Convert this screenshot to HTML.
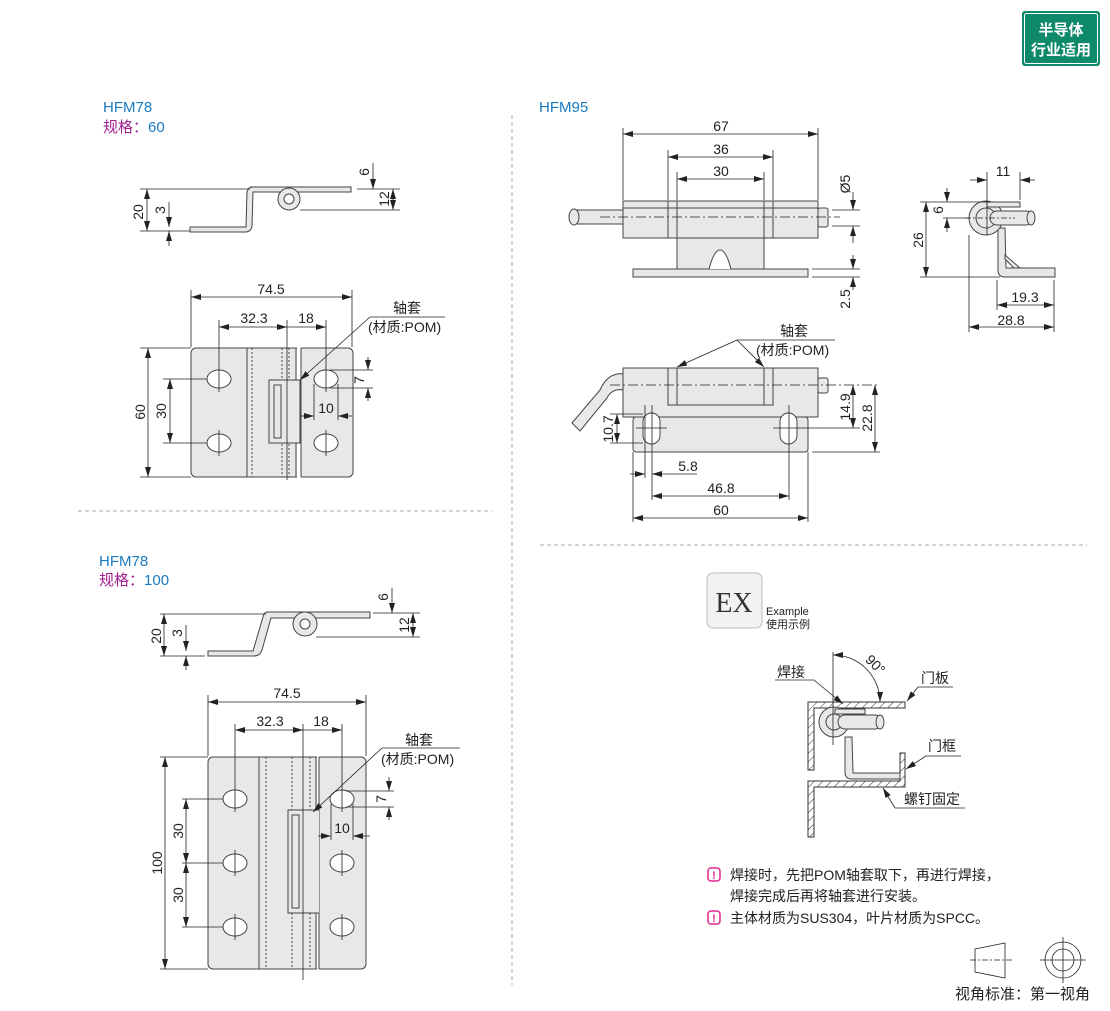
<!DOCTYPE html>
<html><head><meta charset="utf-8">
<style>
html,body{margin:0;padding:0;background:#fff;}
body{width:1110px;height:1006px;overflow:hidden;position:relative;font-family:"Liberation Sans","Noto Sans CJK SC",sans-serif;}
svg text{font-family:"Liberation Sans","Noto Sans CJK SC",sans-serif;fill:#222;}
</style></head><body>
<svg width="1110" height="1006" viewBox="0 0 1110 1006" xmlns="http://www.w3.org/2000/svg">
<defs>
<marker id="a" viewBox="0 0 10 6" refX="10" refY="3" markerWidth="10" markerHeight="6" orient="auto-start-reverse" markerUnits="userSpaceOnUse"><path d="M0,0 L10,3 L0,6z" fill="#222"/></marker>
<pattern id="h" width="6" height="6" patternUnits="userSpaceOnUse" patternTransform="rotate(45)"><rect width="6" height="6" fill="#fff"/><line x1="0" y1="0" x2="0" y2="6" stroke="#333" stroke-width="1"/></pattern>
</defs>

<!-- badge -->
<rect x="1022" y="11" width="78" height="55" rx="3" fill="#0e8a6a"/>
<rect x="1024.5" y="13.5" width="73" height="50" rx="2" fill="none" stroke="#fff" stroke-width="1"/>
<text x="1061" y="35" text-anchor="middle" font-size="15" font-weight="bold" style="fill:#fff">半导体</text>
<text x="1061" y="55" text-anchor="middle" font-size="15" font-weight="bold" style="fill:#fff">行业适用</text>

<!-- dividers -->
<g stroke="#aaa" stroke-width="1" stroke-dasharray="4,3" fill="none">
<line x1="512" y1="115" x2="512" y2="985"/>
<line x1="78" y1="511" x2="492" y2="511"/>
<line x1="540" y1="545" x2="1087" y2="545"/>
</g>

<!-- titles -->
<text x="103" y="112" font-size="15" style="fill:#1a7abf">HFM78</text>
<text x="103" y="132" font-size="15" style="fill:#a0208f">规格：<tspan style="fill:#1a7abf">60</tspan></text>
<text x="539" y="112" font-size="15" style="fill:#1a7abf">HFM95</text>
<text x="99" y="566" font-size="15" style="fill:#1a7abf">HFM78</text>
<text x="99" y="585" font-size="15" style="fill:#a0208f">规格：<tspan style="fill:#1a7abf">100</tspan></text>

<g font-size="14">
<!-- ===== HFM78 60 side view ===== -->
<g stroke="#444" fill="#e8e8ea" stroke-width="1">
<path d="M250,187 L351,187 L351,192 L253,192 L252,226 Q251,232 245,232 L190,232 L190,227 L246,227 L247,192 Q248,187 253,187Z"/>
<circle cx="289" cy="199" r="11"/><circle cx="289" cy="199" r="5" fill="#fff"/>
</g>
<g stroke="#222" stroke-width="0.8" fill="none">
<line x1="140" y1="189" x2="250" y2="189"/><line x1="140" y1="231" x2="190" y2="231"/>
<line x1="147" y1="189" x2="147" y2="231" marker-start="url(#a)" marker-end="url(#a)"/>
<line x1="169" y1="202" x2="169" y2="227" marker-end="url(#a)"/><line x1="169" y1="246" x2="169" y2="231" marker-end="url(#a)"/>
<line x1="357" y1="189" x2="400" y2="189"/><line x1="300" y1="210" x2="400" y2="210"/>
<line x1="373" y1="163" x2="373" y2="189" marker-end="url(#a)"/>
<line x1="393" y1="189" x2="393" y2="210" marker-start="url(#a)" marker-end="url(#a)"/>
</g>
<text transform="translate(143,212) rotate(-90)" text-anchor="middle">20</text>
<text transform="translate(165,210) rotate(-90)" text-anchor="middle">3</text>
<text transform="translate(369,172) rotate(-90)" text-anchor="middle">6</text>
<text transform="translate(389,199) rotate(-90)" text-anchor="middle">12</text>

<!-- ===== HFM78 60 plan ===== -->
<rect x="191" y="348" width="162" height="129" rx="5" fill="#e8e8ea" stroke="#444"/>
<g stroke="#444" stroke-width="1" fill="none">
<line x1="247" y1="348" x2="247" y2="477"/><line x1="296" y1="348" x2="296" y2="477"/>
<rect x="297" y="347" width="4" height="131" fill="#fff" stroke="none"/>
<line x1="301" y1="348" x2="301" y2="477"/>
<line x1="252" y1="348" x2="252" y2="477" stroke-dasharray="2,2"/>
<line x1="282" y1="348" x2="282" y2="477" stroke-dasharray="2,2"/>
<line x1="289" y1="348" x2="289" y2="477" stroke-dasharray="2,2"/>
<rect x="269" y="380" width="31" height="63" fill="#e8e8ea"/>
<rect x="274" y="385" width="7" height="53"/>
<ellipse cx="219" cy="379" rx="12" ry="9" fill="#fff"/><ellipse cx="219" cy="443" rx="12" ry="9" fill="#fff"/>
<ellipse cx="326" cy="379" rx="12" ry="9" fill="#fff"/><ellipse cx="326" cy="443" rx="12" ry="9" fill="#fff"/>
</g>
<g stroke="#222" stroke-width="0.8" fill="none">
<line x1="219" y1="366" x2="219" y2="392"/><line x1="219" y1="430" x2="219" y2="456"/>
<line x1="326" y1="366" x2="326" y2="392"/><line x1="326" y1="430" x2="326" y2="456"/>
<line x1="191" y1="290" x2="191" y2="347"/><line x1="352" y1="290" x2="352" y2="347"/>
<line x1="191" y1="297" x2="352" y2="297" marker-start="url(#a)" marker-end="url(#a)"/>
<line x1="219" y1="320" x2="219" y2="366"/><line x1="287" y1="320" x2="287" y2="480"/><line x1="326" y1="320" x2="326" y2="366"/>
<line x1="219" y1="327" x2="287" y2="327" marker-start="url(#a)" marker-end="url(#a)"/>
<line x1="287" y1="327" x2="326" y2="327" marker-end="url(#a)"/>
<line x1="140" y1="348" x2="191" y2="348"/><line x1="140" y1="477" x2="191" y2="477"/>
<line x1="148" y1="348" x2="148" y2="477" marker-start="url(#a)" marker-end="url(#a)"/>
<line x1="163" y1="379" x2="207" y2="379"/><line x1="163" y1="443" x2="207" y2="443"/>
<line x1="170" y1="379" x2="170" y2="443" marker-start="url(#a)" marker-end="url(#a)"/>
<line x1="330" y1="370" x2="373" y2="370"/><line x1="330" y1="388" x2="373" y2="388"/>
<line x1="368" y1="357" x2="368" y2="370" marker-end="url(#a)"/><line x1="368" y1="401" x2="368" y2="388" marker-end="url(#a)"/>
<line x1="314" y1="384" x2="314" y2="420"/><line x1="338" y1="384" x2="338" y2="420"/>
<line x1="300" y1="416" x2="314" y2="416" marker-end="url(#a)"/><line x1="352" y1="416" x2="338" y2="416" marker-end="url(#a)"/>
<line x1="370" y1="317" x2="445" y2="317"/><line x1="370" y1="317" x2="300" y2="380" marker-end="url(#a)"/>
</g>
<text x="271" y="294" text-anchor="middle">74.5</text>
<text x="254" y="323" text-anchor="middle">32.3</text>
<text x="306" y="323" text-anchor="middle">18</text>
<text x="393" y="313" font-size="14">轴套</text>
<text x="368" y="332">(材质:POM)</text>
<text transform="translate(145,412) rotate(-90)" text-anchor="middle">60</text>
<text transform="translate(166,411) rotate(-90)" text-anchor="middle">30</text>
<text transform="translate(364,380) rotate(-90)" text-anchor="middle">7</text>
<text x="326" y="413" text-anchor="middle">10</text>

<!-- ===== HFM78 100 side view ===== -->
<g stroke="#444" fill="#e8e8ea" stroke-width="1">
<path d="M266,612 L370,612 L370,618 L271,618 L262,650 Q260,656 254,656 L208,656 L208,651 L253,651 L263,617 Q264,612 268,612Z"/>
<circle cx="305" cy="624" r="12"/><circle cx="305" cy="624" r="5" fill="#fff"/>
</g>
<g stroke="#222" stroke-width="0.8" fill="none">
<line x1="160" y1="614" x2="266" y2="614"/><line x1="160" y1="656" x2="205" y2="656"/>
<line x1="164" y1="614" x2="164" y2="656" marker-start="url(#a)" marker-end="url(#a)"/>
<line x1="186" y1="625" x2="186" y2="651" marker-end="url(#a)"/><line x1="186" y1="670" x2="186" y2="656" marker-end="url(#a)"/>
<line x1="373" y1="613" x2="420" y2="613"/><line x1="316" y1="637" x2="420" y2="637"/>
<line x1="392" y1="588" x2="392" y2="613" marker-end="url(#a)"/>
<line x1="413" y1="613" x2="413" y2="637" marker-start="url(#a)" marker-end="url(#a)"/>
</g>
<text transform="translate(161,636) rotate(-90)" text-anchor="middle">20</text>
<text transform="translate(182,633) rotate(-90)" text-anchor="middle">3</text>
<text transform="translate(388,597) rotate(-90)" text-anchor="middle">6</text>
<text transform="translate(409,625) rotate(-90)" text-anchor="middle">12</text>

<!-- ===== HFM78 100 plan ===== -->
<rect x="208" y="757" width="158" height="212" rx="5" fill="#e8e8ea" stroke="#444"/>
<g stroke="#444" stroke-width="1" fill="none">
<line x1="259" y1="757" x2="259" y2="969"/><line x1="316" y1="757" x2="316" y2="969"/>
<rect x="317" y="756" width="2" height="214" fill="#fff" stroke="none"/>
<line x1="319" y1="757" x2="319" y2="969"/>
<line x1="266" y1="757" x2="266" y2="969" stroke-dasharray="2,2"/>
<line x1="292" y1="757" x2="292" y2="969" stroke-dasharray="2,2"/>
<line x1="310" y1="757" x2="310" y2="969" stroke-dasharray="2,2"/>
<path d="M319,810 L288,810 L288,913 L319,913" fill="#e8e8ea"/>
<rect x="292" y="815" width="7" height="93"/>
<ellipse cx="235" cy="799" rx="12" ry="9" fill="#fff"/><ellipse cx="235" cy="863" rx="12" ry="9" fill="#fff"/><ellipse cx="235" cy="927" rx="12" ry="9" fill="#fff"/>
<ellipse cx="342" cy="799" rx="12" ry="9" fill="#fff"/><ellipse cx="342" cy="863" rx="12" ry="9" fill="#fff"/><ellipse cx="342" cy="927" rx="12" ry="9" fill="#fff"/>
</g>
<g stroke="#222" stroke-width="0.8" fill="none">
<line x1="235" y1="786" x2="235" y2="812"/><line x1="235" y1="850" x2="235" y2="876"/><line x1="235" y1="914" x2="235" y2="940"/>
<line x1="342" y1="786" x2="342" y2="812"/><line x1="342" y1="850" x2="342" y2="876"/><line x1="342" y1="914" x2="342" y2="940"/>
<line x1="208" y1="695" x2="208" y2="756"/><line x1="366" y1="695" x2="366" y2="756"/>
<line x1="208" y1="702" x2="366" y2="702" marker-start="url(#a)" marker-end="url(#a)"/>
<line x1="235" y1="724" x2="235" y2="786"/><line x1="303" y1="724" x2="303" y2="980"/><line x1="342" y1="724" x2="342" y2="786"/>
<line x1="235" y1="730" x2="303" y2="730" marker-start="url(#a)" marker-end="url(#a)"/>
<line x1="303" y1="730" x2="342" y2="730" marker-end="url(#a)"/>
<line x1="160" y1="757" x2="208" y2="757"/><line x1="160" y1="969" x2="208" y2="969"/>
<line x1="165" y1="757" x2="165" y2="969" marker-start="url(#a)" marker-end="url(#a)"/>
<line x1="182" y1="799" x2="223" y2="799"/><line x1="182" y1="863" x2="223" y2="863"/><line x1="182" y1="927" x2="223" y2="927"/>
<line x1="186" y1="799" x2="186" y2="863" marker-start="url(#a)" marker-end="url(#a)"/>
<line x1="186" y1="863" x2="186" y2="927" marker-start="url(#a)" marker-end="url(#a)"/>
<line x1="346" y1="791" x2="394" y2="791"/><line x1="346" y1="807" x2="394" y2="807"/>
<line x1="389" y1="777" x2="389" y2="791" marker-end="url(#a)"/><line x1="389" y1="820" x2="389" y2="807" marker-end="url(#a)"/>
<line x1="331" y1="804" x2="331" y2="840"/><line x1="353" y1="804" x2="353" y2="840"/>
<line x1="318" y1="836" x2="331" y2="836" marker-end="url(#a)"/><line x1="370" y1="836" x2="353" y2="836" marker-end="url(#a)"/>
<line x1="382" y1="748" x2="460" y2="748"/><line x1="382" y1="748" x2="313" y2="812" marker-end="url(#a)"/>
</g>
<text x="287" y="698" text-anchor="middle">74.5</text>
<text x="270" y="726" text-anchor="middle">32.3</text>
<text x="321" y="726" text-anchor="middle">18</text>
<text x="405" y="745">轴套</text>
<text x="381" y="764">(材质:POM)</text>
<text transform="translate(162,863) rotate(-90)" text-anchor="middle">100</text>
<text transform="translate(183,831) rotate(-90)" text-anchor="middle">30</text>
<text transform="translate(183,895) rotate(-90)" text-anchor="middle">30</text>
<text transform="translate(386,799) rotate(-90)" text-anchor="middle">7</text>
<text x="342" y="833" text-anchor="middle">10</text>

<!-- ===== HFM95 front ===== -->
<g stroke="#444" stroke-width="1" fill="#e8e8ea">
<rect x="633" y="269" width="175" height="8"/>
<rect x="677" y="236" width="87" height="33"/>
<path d="M709,269 Q714,250 720,250 Q726,250 731,269" fill="#fff"/>
<rect x="572" y="210" width="52" height="14"/>
<ellipse cx="574" cy="217" rx="5" ry="8"/>
<rect x="818" y="208" width="10" height="19" rx="2"/>
<rect x="623" y="201" width="195" height="37"/>
<line x1="623" y1="208" x2="818" y2="208"/>
<line x1="668" y1="201" x2="668" y2="238"/><line x1="677" y1="201" x2="677" y2="238"/>
<line x1="764" y1="201" x2="764" y2="238"/><line x1="773" y1="201" x2="773" y2="238"/>
</g>
<g stroke="#222" stroke-width="0.8" fill="none">
<line x1="600" y1="217" x2="840" y2="217" stroke-dasharray="10,3,2,3"/>
<line x1="623" y1="128" x2="623" y2="200"/><line x1="818" y1="128" x2="818" y2="200"/>
<line x1="623" y1="134" x2="818" y2="134" marker-start="url(#a)" marker-end="url(#a)"/>
<line x1="668" y1="150" x2="668" y2="200"/><line x1="773" y1="150" x2="773" y2="200"/>
<line x1="668" y1="157" x2="773" y2="157" marker-start="url(#a)" marker-end="url(#a)"/>
<line x1="677" y1="172" x2="677" y2="200"/><line x1="764" y1="172" x2="764" y2="200"/>
<line x1="677" y1="179" x2="764" y2="179" marker-start="url(#a)" marker-end="url(#a)"/>
<line x1="832" y1="210" x2="860" y2="210"/><line x1="832" y1="226" x2="860" y2="226"/>
<line x1="853" y1="192" x2="853" y2="210" marker-end="url(#a)"/><line x1="853" y1="243" x2="853" y2="226" marker-end="url(#a)"/>
<line x1="812" y1="269" x2="860" y2="269"/><line x1="812" y1="277" x2="860" y2="277"/>
<line x1="853" y1="255" x2="853" y2="269" marker-end="url(#a)"/><line x1="853" y1="290" x2="853" y2="277" marker-end="url(#a)"/>
</g>
<text x="721" y="131" text-anchor="middle">67</text>
<text x="721" y="154" text-anchor="middle">36</text>
<text x="721" y="176" text-anchor="middle">30</text>
<text transform="translate(850,184) rotate(-90)" text-anchor="middle">Ø5</text>
<text transform="translate(850,299) rotate(-90)" text-anchor="middle">2.5</text>

<!-- ===== HFM95 side ===== -->
<g stroke="#444" stroke-width="1" fill="#e8e8ea">
<path d="M998,228 L998,270 Q998,277 1005,277 L1055,277 L1055,268 L1006,268 L1005,228Z"/>
<path d="M1005,255 L1020,268 L1014,268 L1005,259Z"/>
<circle cx="986" cy="218" r="17"/>
<circle cx="986" cy="218" r="10"/>
<rect x="987" y="202" width="33" height="5"/>
<rect x="990" y="211" width="43" height="14" rx="7"/>
<ellipse cx="1031" cy="218" rx="4" ry="7"/>
</g>
<g stroke="#222" stroke-width="0.8" fill="none">
<line x1="965" y1="218" x2="1015" y2="218" stroke-dasharray="6,2,2,2"/>
<line x1="987" y1="172" x2="987" y2="235"/><line x1="1020" y1="172" x2="1020" y2="200"/>
<line x1="970" y1="180" x2="987" y2="180" marker-end="url(#a)"/><line x1="1035" y1="180" x2="1020" y2="180" marker-end="url(#a)"/>
<line x1="920" y1="202" x2="990" y2="202"/><line x1="920" y1="277" x2="1000" y2="277"/>
<line x1="926" y1="202" x2="926" y2="277" marker-start="url(#a)" marker-end="url(#a)"/>
<line x1="943" y1="218" x2="970" y2="218"/>
<line x1="947" y1="188" x2="947" y2="202" marker-end="url(#a)"/><line x1="947" y1="232" x2="947" y2="218" marker-end="url(#a)"/>
<line x1="969" y1="235" x2="969" y2="332"/><line x1="997" y1="280" x2="997" y2="310"/><line x1="1054" y1="280" x2="1054" y2="332"/>
<line x1="997" y1="305" x2="1054" y2="305" marker-start="url(#a)" marker-end="url(#a)"/>
<line x1="969" y1="327" x2="1054" y2="327" marker-start="url(#a)" marker-end="url(#a)"/>
</g>
<text x="1003" y="176" text-anchor="middle">11</text>
<text transform="translate(943,210) rotate(-90)" text-anchor="middle">6</text>
<text transform="translate(923,240) rotate(-90)" text-anchor="middle">26</text>
<text x="1025" y="302" text-anchor="middle">19.3</text>
<text x="1011" y="325" text-anchor="middle">28.8</text>

<!-- ===== HFM95 bottom ===== -->
<g stroke="#444" stroke-width="1" fill="#e8e8ea">
<path d="M624,374 Q608,372 600,390 L572,423 L580,431 L607,398 Q612,388 624,390Z"/>
<rect x="633" y="417" width="175" height="35" rx="3"/>
<rect x="818" y="378" width="10" height="15" rx="2"/>
<rect x="623" y="368" width="195" height="49"/>
<rect x="668" y="368" width="105" height="37"/>
<line x1="677" y1="368" x2="677" y2="405"/><line x1="764" y1="368" x2="764" y2="405"/>
<rect x="643" y="413" width="17" height="31" rx="8.5" fill="#fff"/>
<rect x="780" y="413" width="17" height="31" rx="8.5" fill="#fff"/>
</g>
<g stroke="#222" stroke-width="0.8" fill="none">
<line x1="610" y1="385" x2="880" y2="385" stroke-dasharray="10,3,2,3"/>
<line x1="636" y1="428" x2="667" y2="428"/><line x1="773" y1="428" x2="860" y2="428"/>
<line x1="652" y1="405" x2="652" y2="500"/><line x1="789" y1="405" x2="789" y2="500"/>
<line x1="645" y1="405" x2="645" y2="478"/>
<line x1="610" y1="414" x2="643" y2="414"/><line x1="610" y1="443" x2="643" y2="443"/>
<line x1="617" y1="414" x2="617" y2="443" marker-start="url(#a)" marker-end="url(#a)"/>
<line x1="853" y1="385" x2="853" y2="428" marker-start="url(#a)" marker-end="url(#a)"/>
<line x1="812" y1="452" x2="880" y2="452"/>
<line x1="875" y1="385" x2="875" y2="452" marker-start="url(#a)" marker-end="url(#a)"/>
<line x1="633" y1="452" x2="633" y2="522"/><line x1="808" y1="452" x2="808" y2="522"/>
<line x1="630" y1="474" x2="645" y2="474" marker-end="url(#a)"/><line x1="697" y1="474" x2="652" y2="474" marker-end="url(#a)"/>
<line x1="652" y1="496" x2="789" y2="496" marker-start="url(#a)" marker-end="url(#a)"/>
<line x1="633" y1="518" x2="808" y2="518" marker-start="url(#a)" marker-end="url(#a)"/>
<line x1="737" y1="340" x2="835" y2="340"/>
<line x1="737" y1="340" x2="677" y2="367" marker-end="url(#a)"/>
<line x1="737" y1="340" x2="764" y2="367" marker-end="url(#a)"/>
</g>
<text x="780" y="336">轴套</text>
<text x="756" y="355">(材质:POM)</text>
<text transform="translate(613,429) rotate(-90)" text-anchor="middle">10.7</text>
<text transform="translate(850,407) rotate(-90)" text-anchor="middle">14.9</text>
<text transform="translate(872,418) rotate(-90)" text-anchor="middle">22.8</text>
<text x="688" y="471" text-anchor="middle">5.8</text>
<text x="721" y="493" text-anchor="middle">46.8</text>
<text x="721" y="515" text-anchor="middle">60</text>

<!-- ===== EX example ===== -->
<rect x="707" y="573" width="55" height="55" rx="6" fill="#f2f2f2" stroke="#bbb"/>
<text x="734" y="612" text-anchor="middle" font-family="Liberation Serif" font-size="28" style="fill:#333;font-family:'Liberation Serif',serif">EX</text>
<text x="766" y="615" font-size="11">Example</text>
<text x="766" y="628" font-size="11">使用示例</text>

<g stroke="#333" stroke-width="1">
<path d="M808,702 L905,702 L905,708 L814,708 L814,770 L808,770Z" fill="url(#h)"/>
<path d="M808,781 L900,781 L900,753 L905,753 L905,787 L814,787 L814,837 L808,837Z" fill="url(#h)"/>
</g>
<g stroke="#444" stroke-width="1" fill="#e8e8ea">
<path d="M845,737 L845,772 Q845,779 852,779 L900,779 L900,773 L853,773 L852,737Z"/>
<circle cx="834" cy="722" r="15"/><circle cx="834" cy="722" r="8"/>
<rect x="835" y="709" width="30" height="5"/>
<rect x="838" y="715" width="44" height="14" rx="7"/>
<ellipse cx="880" cy="722" rx="4" ry="7"/>
</g>
<g stroke="#222" stroke-width="0.8" fill="none">
<line x1="833" y1="652" x2="833" y2="745"/>
<path d="M833,655 A47,47 0 0 1 880,702" marker-start="url(#a)" marker-end="url(#a)"/>
<line x1="775" y1="680" x2="814" y2="680"/><line x1="814" y1="680" x2="843" y2="704" marker-end="url(#a)"/>
<line x1="918" y1="687" x2="953" y2="687"/><line x1="918" y1="687" x2="907" y2="701" marker-end="url(#a)"/>
<line x1="926" y1="756" x2="961" y2="756"/><line x1="926" y1="756" x2="906" y2="769" marker-end="url(#a)"/>
<line x1="895" y1="808" x2="965" y2="808"/><line x1="895" y1="808" x2="883" y2="788" marker-end="url(#a)"/>
</g>
<text x="777" y="677">焊接</text>
<text x="921" y="683">门板</text>
<text x="928" y="751">门框</text>
<text x="904" y="804">螺钉固定</text>
<text transform="translate(872,668) rotate(45)" text-anchor="middle">90°</text>

<!-- notes -->
<g stroke="#e0278a" stroke-width="1.5" fill="none">
<rect x="708" y="868" width="12" height="13" rx="3"/>
<rect x="708" y="911" width="12" height="13" rx="3"/>
</g>
<text x="714" y="879" text-anchor="middle" font-size="11" font-weight="bold" style="fill:#e0278a">!</text>
<text x="714" y="922" text-anchor="middle" font-size="11" font-weight="bold" style="fill:#e0278a">!</text>
<text x="730" y="880">焊接时，先把POM轴套取下，再进行焊接，</text>
<text x="730" y="901">焊接完成后再将轴套进行安装。</text>
<text x="730" y="923">主体材质为SUS304，叶片材质为SPCC。</text>

<!-- projection -->
<g stroke="#222" stroke-width="0.8" fill="none">
<path d="M975,949 L1005,943 L1005,978 L975,972Z"/>
<line x1="970" y1="960" x2="1012" y2="960" stroke-dasharray="6,2,2,2"/>
<circle cx="1063" cy="960" r="18"/><circle cx="1063" cy="960" r="11"/>
<line x1="1040" y1="960" x2="1086" y2="960"/><line x1="1063" y1="937" x2="1063" y2="983"/>
</g>
<text x="955" y="999" font-size="15">视角标准：第一视角</text>
</g>
</svg>
</body></html>
